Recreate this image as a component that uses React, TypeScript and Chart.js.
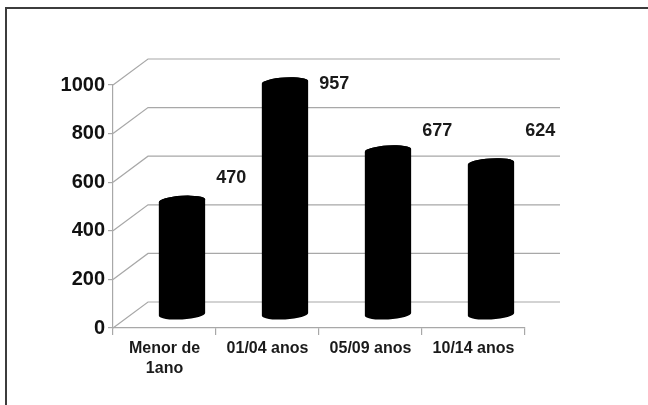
import React, { useEffect, useRef } from "react";
import { Chart, registerables } from "chart.js";

Chart.register(...registerables);

const categories: (string | string[])[] = [["Menor de", "1ano"], "01/04 anos", "05/09 anos", "10/14 anos"];
const casos: number[] = [470, 957, 677, 624];
const yTicks: number[] = [0, 200, 400, 600, 800, 1000];

// depth of the pseudo-3D box (front plane -> back wall)
const DEPTH_X = 35;
const DEPTH_Y = -26;
const GRID = "#a8a8a8";
const FONT = "'Liberation Sans', Arial, sans-serif";

// frame along the top and left edges of the canvas
const framePlugin = {
  id: "frame",
  beforeDraw(chart: any) {
    const { ctx, width, height } = chart;
    ctx.save();
    ctx.fillStyle = "#fff";
    ctx.fillRect(0, 0, width, height);
    ctx.strokeStyle = "#3c3c3c";
    ctx.lineWidth = 2;
    ctx.beginPath();
    ctx.moveTo(6, height + 2);
    ctx.lineTo(6, 8);
    ctx.lineTo(width + 2, 8);
    ctx.stroke();
    ctx.restore();
  },
};

// back wall, floor diagonals and gridlines
const wallPlugin = {
  id: "wall3d",
  beforeDatasetsDraw(chart: any) {
    const { ctx, chartArea, scales } = chart;
    const y = scales.y;
    ctx.save();
    ctx.strokeStyle = GRID;
    ctx.lineWidth = 1.2;
    yTicks.forEach((v) => {
      const py = y.getPixelForValue(v);
      ctx.beginPath();
      ctx.moveTo(chartArea.left, py);
      ctx.lineTo(chartArea.left + DEPTH_X, py + DEPTH_Y);
      ctx.lineTo(chartArea.right + DEPTH_X, py + DEPTH_Y);
      ctx.stroke();
    });
    ctx.restore();
  },
};

// cylinders standing halfway into the depth, with value labels beside them
const cylinderPlugin = {
  id: "cylinders",
  afterDatasetsDraw(chart: any, _args: any, opts: any) {
    const { ctx } = chart;
    const meta = chart.getDatasetMeta(0);
    const values = chart.data.datasets[0].data as number[];
    const nudges: number[] = opts.labelNudge || [];
    ctx.save();
    meta.data.forEach((bar: any, i: number) => {
      const cx = bar.x + DEPTH_X / 2;
      const top = bar.y + DEPTH_Y / 2;
      const base = bar.base + DEPTH_Y / 2;
      const w = bar.width;
      const rx = w / 2;
      const ry = 5;
      ctx.fillStyle = "#000";
      ctx.beginPath();
      ctx.ellipse(cx, base, rx, ry, -0.06, 0, Math.PI);
      ctx.lineTo(cx - rx, top);
      ctx.ellipse(cx, top, rx, ry, -0.06, Math.PI, Math.PI * 2);
      ctx.closePath();
      ctx.fill();
      ctx.beginPath();
      ctx.ellipse(cx, top, rx, ry, -0.06, 0, Math.PI * 2);
      ctx.fill();

      ctx.fillStyle = "#1a1a1a";
      ctx.font = `bold 18px ${FONT}`;
      ctx.textAlign = "center";
      ctx.textBaseline = "middle";
      ctx.fillText(String(values[i]), cx + rx + 26, top + (nudges[i] || 0));
    });
    ctx.restore();
  },
};

export default function App() {
  const ref = useRef<HTMLCanvasElement | null>(null);

  useEffect(() => {
    document.body.style.margin = "0";
    const chart = new Chart(ref.current!, {
      type: "bar",
      data: {
        labels: categories,
        datasets: [
          {
            label: "Casos",
            data: casos,
            backgroundColor: "rgba(0,0,0,0)",
            borderWidth: 0,
            barPercentage: 0.9,
            categoryPercentage: 0.5,
          },
        ],
      },
      options: {
        animation: false,
        responsive: false,
        maintainAspectRatio: false,
        events: [],
        layout: { padding: { top: 85, right: 123, left: 0, bottom: 0 } },
        plugins: {
          legend: { display: false },
          tooltip: { enabled: false },
          cylinders: { labelNudge: [-23, 2, -19, -32] },
        } as any,
        scales: {
          x: {
            grid: { display: true, drawOnChartArea: false, color: GRID, tickLength: 7, lineWidth: 1.2 },
            border: { display: true, color: GRID, width: 1.2 },
            ticks: {
              color: "#1a1a1a",
              font: { family: FONT, size: 16, weight: "bold", lineHeight: 1.25 },
              padding: 4,
              maxRotation: 0,
              autoSkip: false,
            },
            afterFit(scale: any) {
              scale.height = 405 - 328;
            },
          },
          y: {
            min: 0,
            max: 1000,
            grid: { display: true, drawOnChartArea: false, color: GRID, tickLength: 5, lineWidth: 1.2 },
            border: { display: true, color: GRID, width: 1.2 },
            ticks: {
              stepSize: 200,
              color: "#111",
              font: { family: FONT, size: 20, weight: "bold" },
              padding: 3,
              callback: (v: any) => String(v),
            },
            afterFit(scale: any) {
              scale.width = 113;
            },
          },
        },
      },
      plugins: [framePlugin, wallPlugin, cylinderPlugin],
    });
    return () => chart.destroy();
  }, []);

  return (
    <div style={{ position: "relative", width: 648, height: 405, overflow: "hidden", background: "#fff" }}>
      <canvas ref={ref} width={648} height={405} style={{ display: "block" }} />
    </div>
  );
}
